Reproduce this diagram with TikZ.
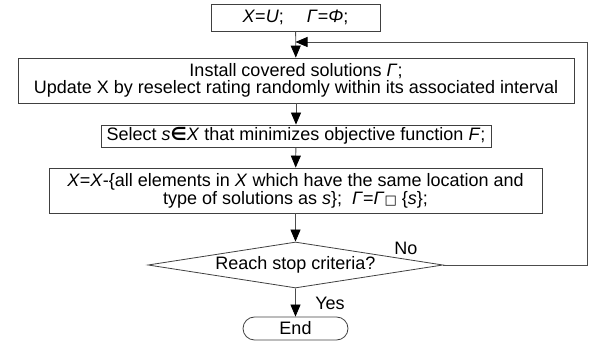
\documentclass[tikz,border=0pt]{standalone}
\usepackage{fontspec}
\setmainfont{Liberation Sans}
\newfontfamily\symfont{DejaVu Sans}
\usetikzlibrary{arrows.meta,shapes.geometric,shapes.misc}

\begin{document}
\begin{tikzpicture}[x=1pt,y=-1pt,
	font=\fontsize{18}{16.7}\selectfont,
	stepbox/.style={draw=black!75,line width=0.8pt,inner sep=0pt,align=center},
	flow/.style={draw=black!70,line width=0.8pt,-{Triangle[length=12pt,width=10pt,color=black]}}]
	\useasboundingbox (0,0) rectangle (592,344);
	
	%BOXES
	\node[stepbox,minimum width=169,minimum height=27] (init) at (295.5,17.5) {\textit{X}=\textit{U};\quad\ \textit{Γ}=\textit{Φ};};
	\node[stepbox,minimum width=556,minimum height=45] (install) at (296,80.5) {Install covered solutions \textit{Γ};\\Update X by reselect rating randomly within its associated interval};
	\node[stepbox,minimum width=390,minimum height=22] (select) at (296,136) {Select \textit{s}{\symfont\bfseries ∈}\textit{X} that minimizes objective function \textit{F};};
	\node[stepbox,minimum width=493,minimum height=45] (remove) at (295.5,190.5) {\textit{X}=\textit{X}-\{all elements in \textit{X} which have the same location and\\type of solutions as \textit{s}\};\ \ \textit{Γ}=\textit{Γ}{\symfont\fontsize{13}{13}\selectfont □} \{\textit{s}\};};
	\node[stepbox,diamond,aspect=6.4,minimum width=295,minimum height=46] (stop) at (295.5,265) {Reach stop criteria?};
	\node[stepbox,rounded rectangle,minimum width=105,minimum height=23] (end) at (295.5,328.5) {End};
	
	%ARROWS
	\draw[flow] (init) -- (install);
	\draw[flow] (install) -- (select);
	\draw[flow] (select) -- (remove);
	\draw[flow] (remove) -- (stop);
	\draw[flow] (stop) -- (end);
	
	%FEEDBACK LOOP
	\coordinate (join) at (295.5,42);
	\draw[flow] (stop.east) -- ++(144,0) |- (join);
	
	%LABELS
	\node (no) at (406,248) {No};
	\node (yes) at (330,303) {Yes};
\end{tikzpicture}
\end{document}
